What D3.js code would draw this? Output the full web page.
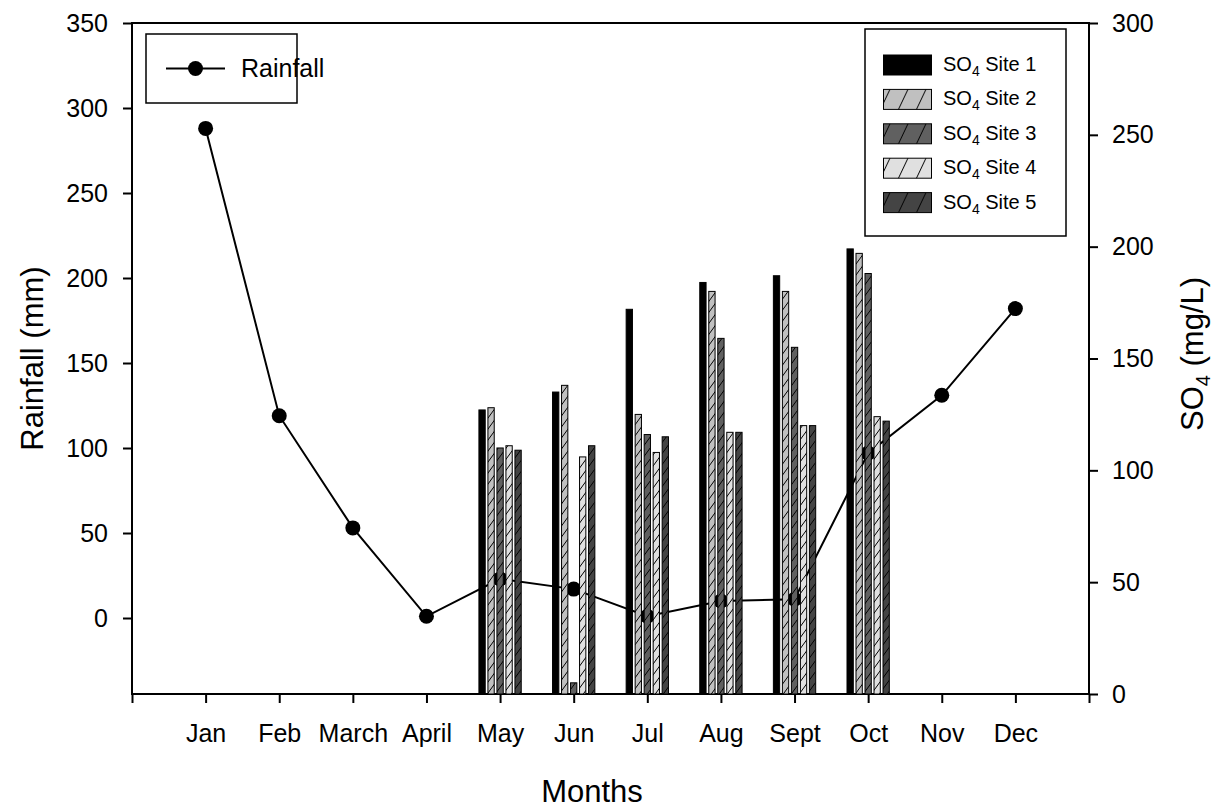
<!DOCTYPE html>
<html lang="en">
<head>
<meta charset="utf-8"/>
<script src="https://d3js.org/d3.v7.min.js"></script>
<style>
  body { margin: 0; background: #fff; }
  svg text { font-family: "Liberation Sans", Arial, sans-serif; fill: #000; }
</style>
</head>
<body>
<svg id="chart"></svg>
<script>
const months = ["Jan", "Feb", "March", "April", "May", "Jun", "Jul", "Aug", "Sept", "Oct", "Nov", "Dec"];
const rainfall = [288, 119, 53, 1, 23, 17, 1, 10, 11, 97, 131, 182];

const siteNames = ["Site 1", "Site 2", "Site 3", "Site 4", "Site 5"];
const so4Site1 = [null, null, null, null, 127, 135, 172, 184, 187, 199, null, null];
const so4Site2 = [null, null, null, null, 128, 138, 125, 180, 180, 197, null, null];
const so4Site3 = [null, null, null, null, 110, 5, 116, 159, 155, 188, null, null];
const so4Site4 = [null, null, null, null, 111, 106, 108, 117, 120, 124, null, null];
const so4Site5 = [null, null, null, null, 109, 111, 115, 117, 120, 122, null, null];
const siteFills = ["#000000", "#c0c0c0", "#606060", "#e0e0e0", "#444444"];

const leftTicks = [0, 50, 100, 150, 200, 250, 300, 350];
const rightTicks = [0, 50, 100, 150, 200, 250, 300];

const width = 1224, height = 810;
const plotLeft = 132, plotRight = 1089, plotTop = 23, plotBottom = 694;

const sites = siteNames.map((name, k) => ({
  name: name,
  fill: siteFills[k],
  values: [so4Site1, so4Site2, so4Site3, so4Site4, so4Site5][k]
}));

const svg = d3.select("#chart")
  .attr("width", width)
  .attr("height", height);

svg.append("rect").attr("width", width).attr("height", height).attr("fill", "#fff");

const xScale = d3.scaleLinear().domain([0, 13]).range([plotLeft, plotRight]);
const yLeft = d3.scaleLinear().domain([-44.7, 350]).range([plotBottom, plotTop]);
const yRight = d3.scaleLinear().domain([0, 300]).range([plotBottom, plotTop]);
// bar offsets inside each month, in month units
const siteBand = d3.scaleBand().domain(siteNames).range([-0.2874, 0.2874]).paddingInner(0.3);

// hatch patterns
const defs = svg.append("defs");
sites.forEach((s, k) => {
  if (k === 0) return;
  let p = defs.append("pattern")
    .attr("id", "bar-hatch" + k)
    .attr("patternUnits", "userSpaceOnUse")
    .attr("width", 8).attr("height", 11);
  p.append("rect").attr("width", 8).attr("height", 11).attr("fill", s.fill);
  p.append("path")
    .attr("d", "M0,11L8,0M-2,2.75L2,-2.75M6,13.75L10,8.25")
    .attr("stroke", "#000").attr("stroke-width", 1);

  let q = defs.append("pattern")
    .attr("id", "leg-hatch" + k)
    .attr("patternUnits", "userSpaceOnUse")
    .attr("x", 880).attr("y", 0)
    .attr("width", 18).attr("height", 38);
  q.append("rect").attr("width", 18).attr("height", 38).attr("fill", s.fill);
  q.append("path")
    .attr("d", "M0,38L18,0M-3,6.33L3,-6.33M15,44.33L21,31.67")
    .attr("stroke", "#000").attr("stroke-width", 1);
});

function siteFill(k, kind) {
  return k === 0 ? "#000" : "url(#" + kind + "-hatch" + k + ")";
}

// axes
const fontSize = 25;

const xAxis = d3.axisBottom(xScale)
  .tickValues(d3.range(0, 14))
  .tickFormat(i => months[i - 1] || "")
  .tickSize(9).tickSizeOuter(0).tickPadding(21);
const xAxis_g = svg.append("g")
  .attr("transform", "translate(0," + plotBottom + ")")
  .call(xAxis);

const yAxisL = d3.axisLeft(yLeft)
  .tickValues(leftTicks)
  .tickSize(9).tickSizeOuter(0).tickPadding(15);
const yAxisL_g = svg.append("g")
  .attr("transform", "translate(" + plotLeft + ",0)")
  .call(yAxisL);

const yAxisR = d3.axisRight(yRight)
  .tickValues(rightTicks)
  .tickSize(9).tickSizeOuter(0).tickPadding(14);
const yAxisR_g = svg.append("g")
  .attr("transform", "translate(" + plotRight + ",0)")
  .call(yAxisR);

[xAxis_g, yAxisL_g, yAxisR_g].forEach(g => {
  g.select(".domain").remove();
  g.selectAll("line").attr("stroke", "#000").attr("stroke-width", 2);
  g.selectAll("text").attr("font-size", fontSize).attr("font-family", null).attr("fill", "#000");
});

// frame
svg.append("rect")
  .attr("x", plotLeft).attr("y", plotTop)
  .attr("width", plotRight - plotLeft).attr("height", plotBottom - plotTop)
  .attr("fill", "none").attr("stroke", "#000").attr("stroke-width", 2);

// rainfall line and markers (drawn under the bars)
const rainLine = d3.line()
  .x((d, i) => xScale(i + 1))
  .y(d => yLeft(d));

svg.append("path")
  .datum(rainfall)
  .attr("fill", "none")
  .attr("stroke", "#000")
  .attr("stroke-width", 2)
  .attr("d", rainLine);

svg.selectAll(".rain-dot")
  .data(rainfall)
  .join("circle")
  .attr("class", "rain-dot")
  .attr("cx", (d, i) => xScale(i + 1))
  .attr("cy", d => yLeft(d))
  .attr("r", 7.5)
  .attr("fill", "#000");

// SO4 bars
const barW = xScale(siteBand.bandwidth()) - xScale(0);
sites.forEach((s, k) => {
  svg.append("g")
    .selectAll("rect")
    .data(s.values.map((v, i) => ({v: v, i: i})).filter(d => d.v !== null))
    .join("rect")
    .attr("x", d => xScale(d.i + 1 + siteBand(s.name)))
    .attr("y", d => yRight(d.v))
    .attr("width", barW)
    .attr("height", d => yRight(0) - yRight(d.v))
    .attr("fill", siteFill(k, "bar"))
    .attr("stroke", "#000")
    .attr("stroke-width", 1);
});

// axis titles
svg.append("text")
  .attr("transform", "translate(43," + ((plotTop + plotBottom) / 2) + ") rotate(-90)")
  .attr("text-anchor", "middle")
  .attr("font-size", 31)
  .text("Rainfall (mm)");

let so4Title = svg.append("text")
  .attr("transform", "translate(1203,354) rotate(-90)")
  .attr("text-anchor", "middle")
  .attr("font-size", 31);
so4Title.append("tspan").text("SO");
so4Title.append("tspan").attr("font-size", 20).attr("dy", 7).text("4");
so4Title.append("tspan").attr("dy", -7).text(" (mg/L)");

svg.append("text")
  .attr("x", 592).attr("y", 802)
  .attr("text-anchor", "middle")
  .attr("font-size", 31)
  .text("Months");

// rainfall legend
const rainLeg = svg.append("g");
rainLeg.append("rect")
  .attr("x", 146).attr("y", 34).attr("width", 151).attr("height", 69)
  .attr("fill", "#fff").attr("stroke", "#000").attr("stroke-width", 1.5);
rainLeg.append("line")
  .attr("x1", 166).attr("x2", 225).attr("y1", 68.5).attr("y2", 68.5)
  .attr("stroke", "#000").attr("stroke-width", 2);
rainLeg.append("circle").attr("cx", 195.5).attr("cy", 68.5).attr("r", 7.5).attr("fill", "#000");
rainLeg.append("text").attr("x", 241).attr("y", 77).attr("font-size", fontSize).text("Rainfall");

// SO4 legend
const so4Leg = svg.append("g");
so4Leg.append("rect")
  .attr("x", 865).attr("y", 29).attr("width", 201).attr("height", 207)
  .attr("fill", "#fff").attr("stroke", "#000").attr("stroke-width", 1.5);
const legRows = so4Leg.selectAll(".leg-row")
  .data(sites)
  .join("g")
  .attr("class", "leg-row")
  .attr("transform", (d, k) => "translate(0," + (k * 34.4) + ")");
legRows.append("rect")
  .attr("x", 883.5).attr("y", 55).attr("width", 48).attr("height", 20)
  .attr("fill", (d, k) => siteFill(k, "leg"))
  .attr("stroke", "#000").attr("stroke-width", 1);
const legText = legRows.append("text")
  .attr("x", 943).attr("y", 71)
  .attr("font-size", 20);
legText.append("tspan").text("SO");
legText.append("tspan").attr("font-size", 14).attr("dy", 5).text("4");
legText.append("tspan").attr("dy", -5).text(d => " " + d.name);
</script>
</body>
</html>
